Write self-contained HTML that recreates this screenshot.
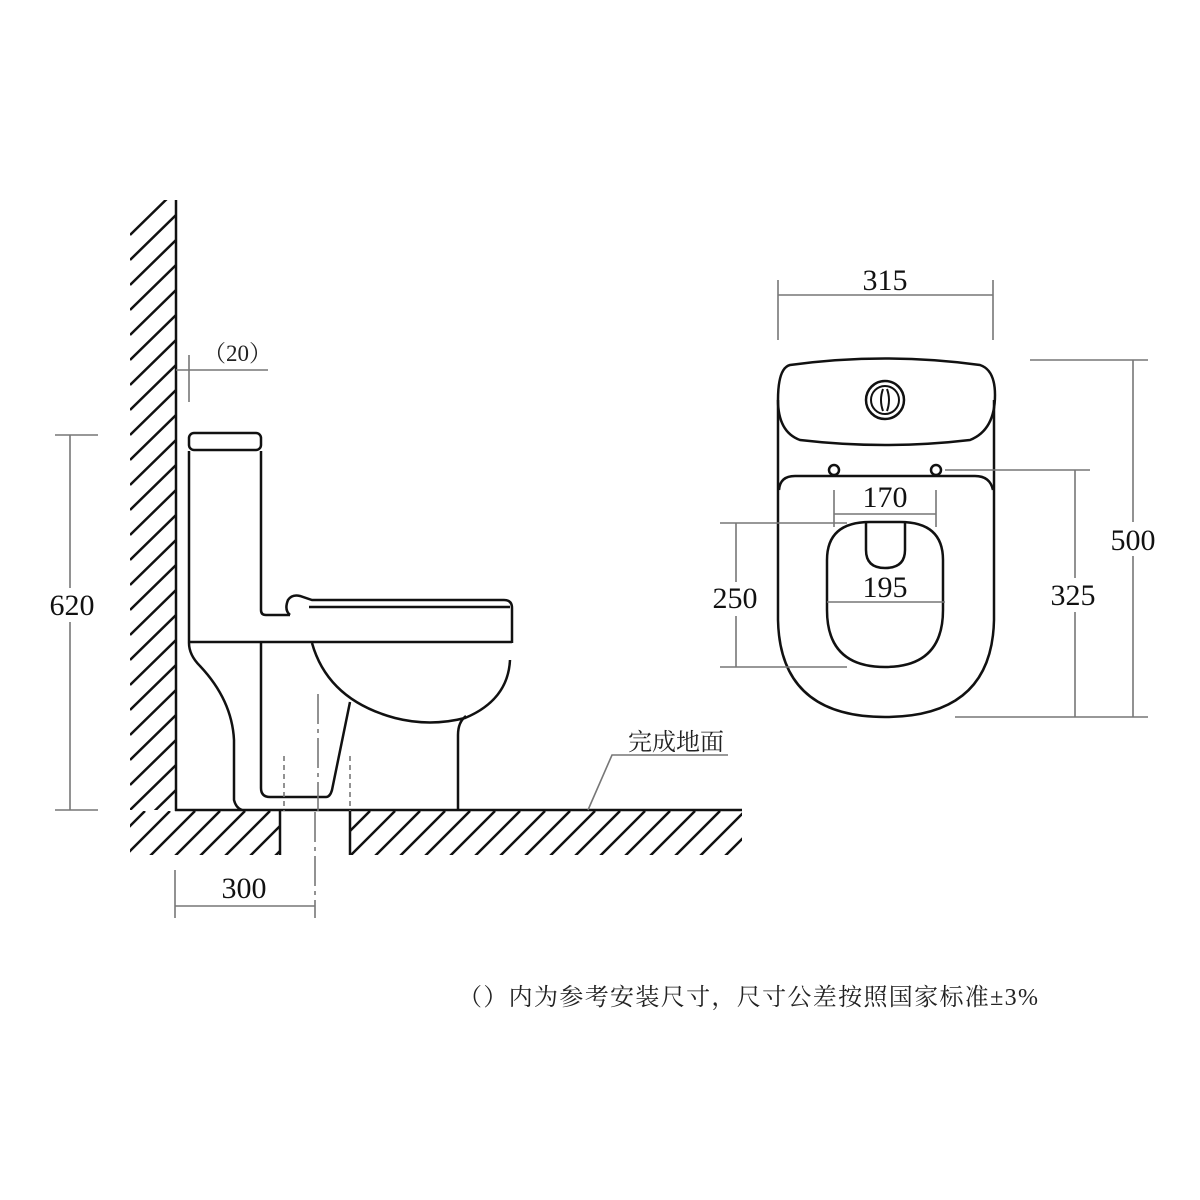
<!DOCTYPE html>
<html><head><meta charset="utf-8"><style>
html,body{margin:0;padding:0;background:#fff;width:1200px;height:1200px;overflow:hidden}
svg{display:block}
.n{font-family:"Liberation Serif",serif;font-size:30px;fill:#111;text-anchor:middle}
.c{font-family:"Liberation Serif","Noto Serif CJK SC",serif;fill:#222}
</style></head><body>
<svg id="s" width="1200" height="1200" viewBox="0 0 1200 1200" xmlns="http://www.w3.org/2000/svg">
<defs>
<clipPath id="cw"><rect x="130" y="200" width="45" height="610"/></clipPath>
<clipPath id="cf"><path d="M130 811 H280 V855 H130Z M350 811 H742 V855 H350Z"/></clipPath>
</defs>
<g id="hw" clip-path="url(#cw)" stroke="#111" stroke-width="2.5"></g>
<g id="hf" clip-path="url(#cf)" stroke="#111" stroke-width="2.5"></g>
<g fill="none" stroke="#111" stroke-width="2.5">
<line x1="176" y1="200" x2="176" y2="811"/>
<line x1="175" y1="810" x2="742" y2="810"/>
<line x1="280" y1="811" x2="280" y2="855"/>
<line x1="350" y1="811" x2="350" y2="855"/>
<rect x="189" y="433" width="72" height="17" rx="5"/>
<path d="M189 451 V643 M261 451 V610 Q261 615 266 615 H290"/>
<path d="M290 615 Q284 610 288 600 Q292 594 300 596 Q306 598 312 600 H504 Q512 600 512 608 V643"/>
<line x1="309" y1="607" x2="510" y2="607"/>
<line x1="189" y1="642" x2="512" y2="642"/>
<path d="M189 643 Q189 655 200 666 Q232 700 234 740 V800 Q236 808 242 810"/>
<path d="M261 643 V788 Q261 797 270 797 H326 Q330 797 332 790 L350 702"/>
<path d="M312 643 Q328 700 395 718 Q430 727 465 718 Q508 700 510 660"/>
<path d="M466 716 Q458 722 458 735 V810"/>
<path d="M790 365 Q885 352 980 365 Q995 370 995 395 Q995 430 970 440 Q885 450 800 440 Q778 432 778 400 Q778 368 790 365Z"/>
<path d="M778 400 V620 Q780 717 885 717 Q992 717 994 620 V400"/>
<path d="M779 490 Q780 476 795 476 H975 Q990 476 993 490"/>
<path d="M827 560 Q827 522 870 522 H900 Q943 522 943 560 V610 Q943 667 885 667 Q827 667 827 610Z"/>
<path d="M866 523 V550 Q866 568 885 568 Q905 568 905 550 V523"/>
<circle cx="885" cy="400" r="19"/><circle cx="885" cy="400" r="14" stroke-width="2"/>
<path d="M883 389 Q879 400 883 411 M887 389 Q891 400 887 411" stroke-width="2"/>
<circle cx="834" cy="470" r="5"/><circle cx="936" cy="470" r="5"/>
</g>
<g fill="none" stroke="#777" stroke-width="1.6">
<line x1="70" y1="435" x2="70" y2="810"/><line x1="55" y1="435" x2="98" y2="435"/><line x1="55" y1="810" x2="98" y2="810"/>
<line x1="175" y1="906" x2="315" y2="906"/><line x1="175" y1="870" x2="175" y2="918"/><line x1="315" y1="812" x2="315" y2="918" stroke-dasharray="30 5 4 5"/>
<line x1="176" y1="370" x2="268" y2="370"/><line x1="189" y1="355" x2="189" y2="402"/>
<line x1="284" y1="756" x2="284" y2="811" stroke-dasharray="5 4"/><line x1="350" y1="756" x2="350" y2="811" stroke-dasharray="5 4"/>
<line x1="318" y1="694" x2="318" y2="811" stroke-dasharray="30 5 4 5"/>
<polyline points="588,810 612,755 728,755"/>
<line x1="778" y1="295" x2="993" y2="295"/><line x1="778" y1="280" x2="778" y2="340"/><line x1="993" y1="280" x2="993" y2="340"/>
<line x1="1133" y1="360" x2="1133" y2="717"/><line x1="1030" y1="360" x2="1148" y2="360"/><line x1="955" y1="717" x2="1148" y2="717"/>
<line x1="1075" y1="470" x2="1075" y2="717"/><line x1="945" y1="470" x2="1090" y2="470"/>
<line x1="736" y1="523" x2="736" y2="667"/><line x1="720" y1="523" x2="847" y2="523"/><line x1="720" y1="667" x2="847" y2="667"/>
<line x1="834" y1="514" x2="936" y2="514"/><line x1="834" y1="490" x2="834" y2="527"/><line x1="936" y1="490" x2="936" y2="527"/>
<line x1="827" y1="602" x2="945" y2="602"/>
</g>
<g fill="#fff">
<rect x="48" y="588" width="48" height="34"/>
<rect x="1108" y="522" width="50" height="34"/>
<rect x="1050" y="578" width="48" height="34"/>
<rect x="710" y="582" width="50" height="34"/>
</g>
<text class="n" x="72" y="615">620</text>
<text class="n" x="244" y="898">300</text>
<text class="c" x="203" y="361" font-size="23">（20）</text>
<text class="c" x="628" y="750" font-size="24">完成地面</text>
<text class="n" x="885" y="290">315</text>
<text class="n" x="1133" y="550">500</text>
<text class="n" x="1073" y="605">325</text>
<text class="n" x="735" y="608">250</text>
<text class="n" x="885" y="507">170</text>
<text class="n" x="885" y="597">195</text>
<text class="c" x="458" y="1005" font-size="24" textLength="580">（）内为参考安装尺寸，尺寸公差按照国家标准±3%</text>
</svg>
<script>
var ns="http://www.w3.org/2000/svg";
function L(g,x1,y1,x2,y2){var l=document.createElementNS(ns,"line");l.setAttribute("x1",x1);l.setAttribute("y1",y1);l.setAttribute("x2",x2);l.setAttribute("y2",y2);g.appendChild(l);}
var hw=document.getElementById("hw");
for(var y=190;y<900;y+=25)L(hw,130,y+45,176,y);
var hf=document.getElementById("hf");
for(var x=100;x<800;x+=25)L(hf,x,856,x+45,811);
</script>
</body></html>
